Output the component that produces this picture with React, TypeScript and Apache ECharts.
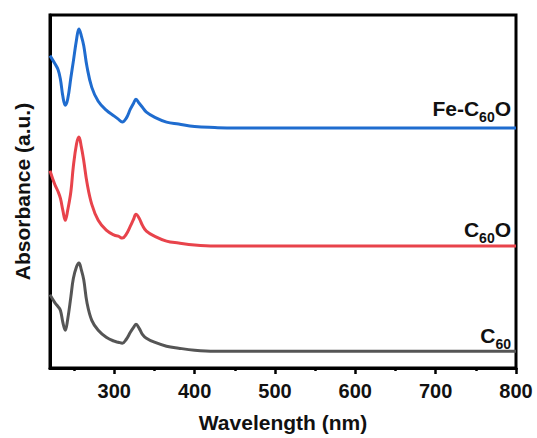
import React, { useEffect, useRef } from "react";
import * as echarts from "echarts";

const wavelengths = [220, 226, 230, 233, 236, 239, 242, 246, 249, 253, 256, 259, 262, 266, 272, 280, 290, 300, 305, 310, 315, 320, 324, 327, 331, 335, 340, 350, 365, 380, 400, 425, 450, 500, 550, 600, 650, 700, 750, 800];
const feC60O = [3.15, 3.07, 3.01, 2.91, 2.74, 2.65, 2.71, 2.93, 3.09, 3.31, 3.42, 3.35, 3.25, 3.04, 2.83, 2.69, 2.6, 2.54, 2.51, 2.48, 2.52, 2.61, 2.67, 2.71, 2.67, 2.63, 2.58, 2.53, 2.48, 2.46, 2.435, 2.425, 2.42, 2.42, 2.42, 2.42, 2.42, 2.42, 2.42, 2.42];
const c60O = [1.99, 1.85, 1.78, 1.71, 1.59, 1.49, 1.59, 1.78, 2.03, 2.26, 2.33, 2.23, 2.09, 1.87, 1.65, 1.49, 1.39, 1.34, 1.33, 1.31, 1.35, 1.43, 1.5, 1.55, 1.51, 1.44, 1.38, 1.33, 1.28, 1.26, 1.24, 1.23, 1.23, 1.23, 1.23, 1.23, 1.23, 1.23, 1.23, 1.23];
const c60 = [0.74, 0.66, 0.62, 0.58, 0.46, 0.38, 0.49, 0.72, 0.9, 1.02, 1.06, 0.99, 0.89, 0.66, 0.48, 0.38, 0.31, 0.27, 0.26, 0.25, 0.29, 0.36, 0.41, 0.44, 0.4, 0.34, 0.3, 0.26, 0.22, 0.2, 0.18, 0.17, 0.17, 0.17, 0.17, 0.17, 0.17, 0.17, 0.17, 0.17];

const majorTicks = [300, 400, 500, 600, 700, 800];
const minorTicks = [250, 350, 450, 550, 650, 750];

const seriesNames = ["Fe-C60O", "C60O", "C60"];
const seriesLabelParts = [
  ["Fe-C", "60", "O"],
  ["C", "60", "O"],
  ["C", "60", ""],
];
const seriesColors = ["#1f6ccf", "#e8434b", "#555555"];
const seriesValues = [feC60O, c60O, c60];

const FONT = "'Liberation Sans', Arial, sans-serif";

export default function App() {
  const ref = useRef<HTMLDivElement>(null);
  useEffect(() => {
    if (!ref.current) return;
    const chart = echarts.init(ref.current, undefined, { renderer: "svg" });
    const labelY = [111, 232, 338];
    const option: any = {
      animation: false,
      backgroundColor: "#ffffff",
      grid: {
        left: 50,
        right: 21,
        top: 15,
        bottom: 67,
        show: true,
        borderColor: "#000",
        borderWidth: 3,
        backgroundColor: "transparent",
      },
      xAxis: [
        {
          type: "value",
          min: 220,
          max: 800,
          name: "Wavelength (nm)",
          nameLocation: "middle",
          nameGap: 44,
          nameTextStyle: { fontFamily: FONT, fontWeight: "bold", fontSize: 21, color: "#111" },
          axisLine: { show: true, lineStyle: { color: "#000", width: 3 } },
          axisTick: { show: true, length: 6, lineStyle: { color: "#000", width: 2.5 }, customValues: majorTicks },
          axisLabel: {
            fontFamily: FONT,
            fontWeight: "bold",
            fontSize: 20,
            color: "#111",
            margin: 13,
            customValues: majorTicks,
          },
          splitLine: { show: false },
        },
        {
          type: "value",
          min: 220,
          max: 800,
          position: "bottom",
          axisLine: { show: false },
          axisTick: { show: true, length: 3, lineStyle: { color: "#000", width: 2.5 }, customValues: minorTicks },
          axisLabel: { show: false },
          splitLine: { show: false },
        },
      ],
      yAxis: {
        type: "value",
        min: 0,
        max: 3.56,
        name: "Absorbance (a.u.)",
        nameLocation: "middle",
        nameGap: 17,
        nameTextStyle: { fontFamily: FONT, fontWeight: "bold", fontSize: 21, color: "#111" },
        axisLine: { show: true, lineStyle: { color: "#000", width: 3 } },
        axisTick: { show: false },
        axisLabel: { show: false },
        splitLine: { show: false },
      },
      series: seriesValues.map((vals, i) => ({
        type: "line",
        name: seriesNames[i],
        xAxisIndex: 0,
        data: wavelengths.map((w, j) => [w, vals[j]]),
        showSymbol: false,
        smooth: 0.4,
        lineStyle: { color: seriesColors[i], width: 3 },
        z: 3,
      })),
      graphic: seriesLabelParts.map((p, i) => ({
        type: "text",
        x: 511,
        y: labelY[i],
        style: {
          text: `{m|${p[0]}}{s|${p[1]}}` + (p[2] ? `{m|${p[2]}}` : ""),
          align: "right",
          verticalAlign: "middle",
          rich: {
            m: { fontFamily: FONT, fontWeight: "bold", fontSize: 21, fill: "#111", color: "#111", verticalAlign: "top", lineHeight: 26 },
            s: { fontFamily: FONT, fontWeight: "bold", fontSize: 14, fill: "#111", color: "#111", verticalAlign: "bottom", lineHeight: 26 },
          },
        },
        z: 10,
      })),
    };
    chart.setOption(option);
    return () => chart.dispose();
  }, []);
  return <div ref={ref} style={{ width: 537, height: 438, position: "absolute", left: 0, top: 0 }} />;
}
